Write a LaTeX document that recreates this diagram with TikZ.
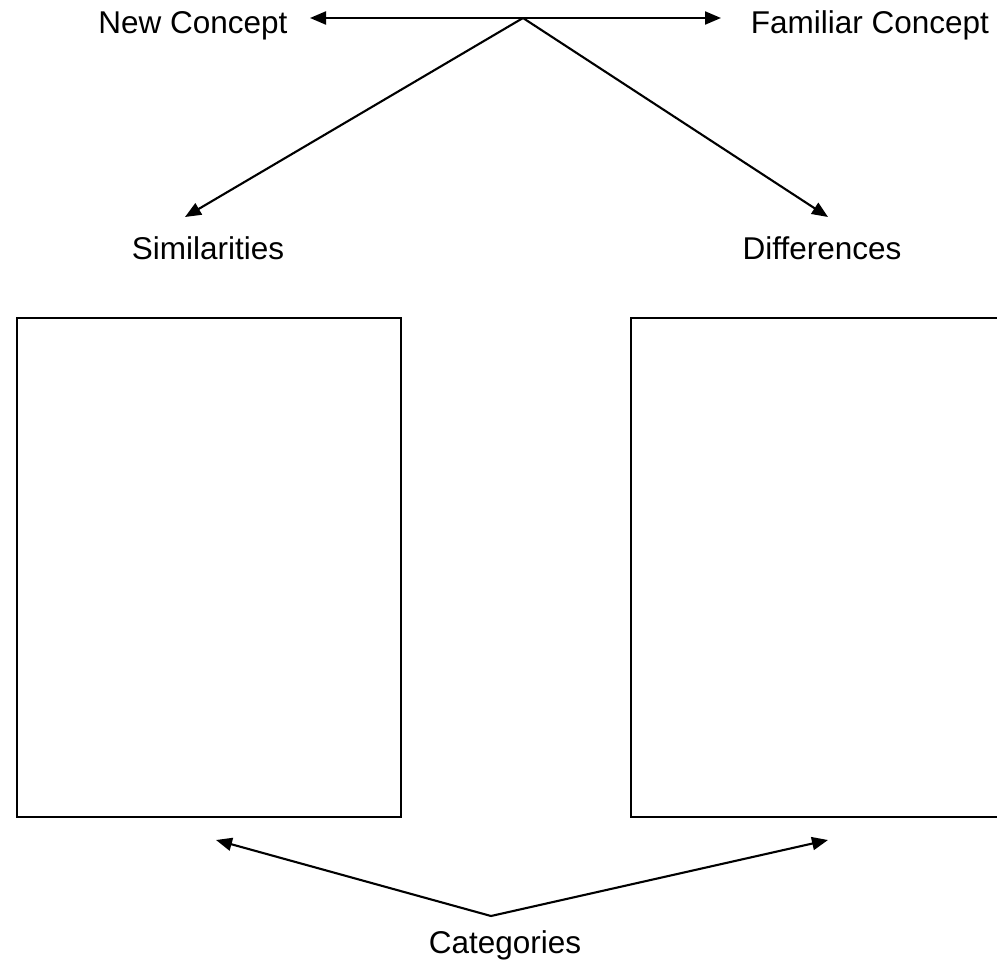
\documentclass[tikz,border=0pt]{standalone}
\usepackage{fontspec}
\setmainfont{Liberation Sans}
\usetikzlibrary{arrows.meta}
\begin{document}
\begin{tikzpicture}[x=1pt,y=-1pt,
  lbl/.style={inner sep=0pt,anchor=base,font=\fontsize{31.5}{37}\selectfont},
  conn/.style={line width=2.1pt,-{Triangle[length=16pt,width=13pt]}},
  panel/.style={line width=2.1pt}]
\useasboundingbox (0,0) rectangle (997,964);
\fill[white] (0,0) rectangle (997,964);
% text labels
\node[lbl] (new) at (193,33) {New Concept};
\node[lbl] (fam) at (870,33) {Familiar Concept};
\node[lbl] (sim) at (208,259) {Similarities};
\node[lbl] (dif) at (822,259) {Differences};
\node[lbl] (cat) at (505,953) {Categories};
% connector points
\coordinate (top) at (523,18);
\coordinate (newtip) at (310,18);
\coordinate (famtip) at (721,18);
\coordinate (simtip) at (185,217);
\coordinate (diftip) at (828,217);
\coordinate (bot) at (491,916);
\coordinate (lbtip) at (216,840);
\coordinate (rbtip) at (828,840);
% boxes
\node[panel,draw,rectangle,minimum width=384pt,minimum height=499pt,inner sep=0pt,anchor=north west] (lbox) at (16,317) {};
\node[panel,draw,rectangle,minimum width=384pt,minimum height=499pt,inner sep=0pt,anchor=north west] (rbox) at (630,317) {};
% connectors
\draw[conn] (top) -- (newtip);
\draw[conn] (top) -- (famtip);
\draw[conn] (top) -- (simtip);
\draw[conn] (top) -- (diftip);
\draw[conn] (bot) -- (lbtip);
\draw[conn] (bot) -- (rbtip);
\end{tikzpicture}
\end{document}
